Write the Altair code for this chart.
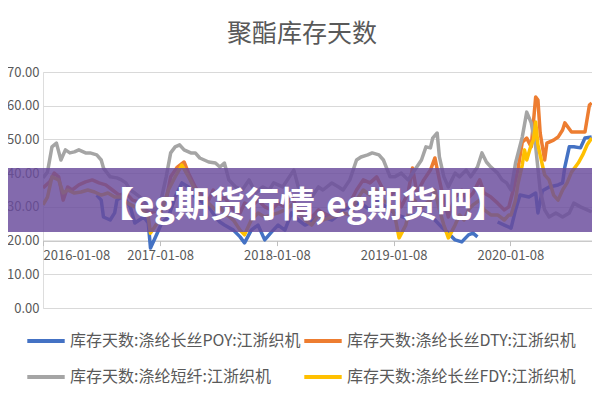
import altair as alt
import pandas as pd

TITLE = "聚酯库存天数"
BANNER = "【eg期货行情,eg期货吧】"
START = pd.Timestamp("2016-01-08")
SERIES = ["库存天数:涤纶长丝POY:江浙织机", "库存天数:涤纶长丝DTY:江浙织机",
          "库存天数:涤纶短纤:江浙织机", "库存天数:涤纶长丝FDY:江浙织机"]
COLORS = ["#4472C4", "#ED7D31", "#A5A5A5", "#FFC000"]
X_TICKS = ["2016-01-08", "2017-01-08", "2018-01-08", "2019-01-08", "2020-01-08"]

# weeks since 2016-01-08 and values (days)
POY_W = [24, 26, 27, 30, 32, 33, 35, 37, 39, 41, 43, 45, 47, 48, 51, 53, 56, 59, 62, 65, 68, 70, 74, 77,
         79, 81, 85, 88, 90, 93, 96, 99, 102, 105, 108, 111, 114, 117, 120, 123, 125, 129, 132, 134, 137,
         140, 143, 146, 149, 152, 155, 158, 162, 166, 170, 175, 178, 181, 184, 187, 190, 192, 194,
         203, 206, 209, 211, 213, 217, 220, 221, 223, 226, 230, 232, 233, 235, 237, 240, 242, 245]
POY_V = [33.5, 32.0, 27.0, 26.1, 28.2, 32.0, 32.9, 32.0, 30.0, 25.2, 26.1, 27.0, 25.2, 17.8, 22.2, 25.2,
         27.0, 32.9, 37.1, 35.9, 32.9, 32.0, 30.0, 27.0, 25.5, 24.6, 23.1, 21.1, 19.3, 23.1, 24.6, 20.2,
         22.5, 24.6, 23.1, 28.2, 26.1, 24.6, 25.5, 27.6, 27.0, 26.1, 27.6, 29.1, 30.0, 31.1, 30.6, 29.1,
         32.0, 30.6, 29.1, 27.6, 26.7, 27.6, 28.2, 26.1, 24.0, 22.2, 20.2, 19.6, 21.7, 22.2, 21.1,
         25.5, 24.6, 23.7, 29.1, 33.5, 32.9, 34.1, 28.2, 34.8, 35.9, 36.5, 37.1, 41.8, 47.8, 47.8, 47.5,
         50.4, 50.7]
POY_SEG = [0] * 63 + [1] * 18

DTY_W = [0, 3, 5, 7, 9, 11, 13, 16, 19, 22, 25, 28, 31, 34, 37, 40, 43, 46, 48, 52, 55, 57, 60, 63, 65,
         68, 70, 74, 76, 79, 81, 85, 88, 90, 93, 96, 99, 102, 105, 108, 111, 114, 117, 120, 123, 125, 129,
         132, 134, 137, 140, 143, 146, 149, 152, 155, 157, 160, 163, 165, 167, 170, 173, 175, 177, 179,
         181, 184, 187, 189, 192, 195, 197, 200, 203, 206, 208, 210, 212, 214, 216, 218, 220, 221, 222,
         224, 225, 228, 230, 232, 233, 236, 238, 240, 242, 244, 245]
DTY_V = [35.6, 37.4, 40.0, 38.9, 32.0, 35.9, 35.0, 36.5, 37.4, 38.0, 37.1, 36.5, 35.0, 33.5, 34.1, 32.0,
         31.4, 29.1, 28.2, 29.1, 32.0, 38.9, 41.8, 43.3, 40.0, 35.9, 34.1, 32.0, 35.0, 32.0, 32.9, 29.1,
         28.2, 31.1, 30.0, 32.0, 30.0, 29.1, 31.1, 30.0, 32.9, 29.1, 28.2, 27.0, 29.1, 28.2, 27.0, 29.1,
         30.0, 31.1, 35.0, 38.0, 37.1, 38.9, 35.0, 32.9, 35.0, 30.0, 34.1, 41.5, 34.1, 38.0, 40.9, 44.5,
         38.0, 32.0, 27.0, 32.9, 35.0, 32.0, 34.1, 38.0, 34.1, 32.9, 31.1, 29.1, 30.0, 35.0, 40.9, 49.2,
         50.4, 47.8, 62.6, 61.7, 51.9, 43.9, 48.9, 49.8, 50.7, 52.8, 54.9, 52.2, 52.2, 52.2, 52.2, 60.2,
         60.8]

PSF_W = [0, 2, 4, 6, 8, 10, 12, 14, 16, 19, 21, 24, 26, 27, 30, 33, 35, 37, 39, 41, 44, 47, 50, 53, 55,
         57, 59, 61, 63, 66, 68, 70, 74, 77, 79, 81, 83, 86, 89, 92, 95, 98, 101, 103, 107, 110, 112, 114,
         117, 120, 123, 125, 129, 132, 134, 137, 140, 142, 145, 147, 150, 152, 155, 157, 160, 163, 166,
         169, 171, 173, 174, 176, 177, 179, 181, 184, 186, 189, 191, 194, 196, 198, 200, 203, 205, 207,
         209, 211, 214, 216, 218, 220, 222, 224, 226, 229, 232, 235, 237, 240, 243, 245]
PSF_V = [38.6, 40.3, 47.8, 48.9, 43.9, 46.9, 46.0, 46.3, 46.9, 46.0, 46.0, 45.4, 43.9, 41.5, 38.9, 38.6,
         38.0, 37.1, 35.0, 34.1, 32.6, 30.0, 29.1, 32.9, 38.9, 46.0, 47.8, 48.4, 46.9, 46.0, 46.0, 44.5,
         43.3, 43.0, 41.8, 43.0, 38.0, 35.9, 35.0, 38.0, 34.1, 35.9, 35.0, 37.1, 35.9, 38.9, 40.9, 35.9,
         35.0, 32.9, 35.9, 35.0, 37.1, 35.9, 35.0, 38.0, 43.9, 44.8, 45.4, 46.0, 45.4, 43.9, 38.9, 38.9,
         40.0, 38.0, 40.9, 43.9, 47.8, 47.5, 50.4, 51.9, 44.8, 38.9, 35.9, 40.0, 38.9, 40.9, 38.9, 41.8,
         46.0, 43.3, 41.8, 40.0, 38.0, 37.1, 35.0, 43.0, 50.7, 58.1, 54.9, 47.8, 35.0, 29.1, 27.0, 28.2,
         27.0, 28.2, 31.1, 30.0, 29.1, 28.5]

FDY_W = [0, 2, 4, 7, 9, 11, 14, 17, 20, 23, 26, 29, 32, 35, 37, 41, 44, 47, 48, 51, 53, 56, 59, 62, 65,
         68, 70, 74, 77, 79, 81, 85, 88, 90, 93, 96, 99, 102, 105, 108, 111, 114, 117, 120, 123, 125, 129,
         132, 134, 137, 140, 143, 146, 149, 152, 155, 157, 159, 162, 164, 166, 168, 170, 173, 175, 177,
         179, 181, 184, 186, 188, 190, 192, 195, 197, 200, 203, 206, 208, 209, 211, 212, 214, 215, 216,
         218, 219, 220, 221, 223, 224, 226, 228, 230, 232, 234, 236, 239, 241, 243, 245]
FDY_V = [30.6, 32.9, 38.9, 38.0, 34.1, 35.0, 34.1, 34.4, 35.0, 34.4, 33.5, 34.1, 32.9, 32.9, 31.4, 30.0,
         29.7, 27.0, 22.2, 25.2, 29.1, 35.0, 38.9, 42.4, 38.9, 35.0, 32.9, 31.1, 29.1, 30.0, 28.2, 26.1,
         23.1, 21.7, 26.1, 28.2, 27.0, 27.6, 28.2, 29.1, 30.6, 28.2, 26.1, 24.6, 27.6, 26.1, 27.0, 27.6,
         28.2, 27.6, 32.0, 35.0, 33.5, 35.0, 32.0, 30.6, 27.6, 20.8, 24.6, 30.6, 32.0, 29.1, 30.6, 32.0,
         35.0, 29.1, 24.6, 20.8, 24.6, 27.6, 26.1, 29.1, 30.6, 32.0, 29.1, 27.6, 27.6, 26.1, 27.6, 27.6,
         32.0, 36.5, 42.4, 46.9, 43.9, 48.4, 49.8, 55.2, 48.4, 42.4, 39.5, 38.0, 33.5, 32.0, 35.0, 37.1,
         40.3, 43.0, 45.4, 48.4, 50.4]

rows = []
for name, ws, vs, segs in [
    (SERIES[0], POY_W, POY_V, POY_SEG),
    (SERIES[1], DTY_W, DTY_V, [0] * len(DTY_W)),
    (SERIES[2], PSF_W, PSF_V, [0] * len(PSF_W)),
    (SERIES[3], FDY_W, FDY_V, [0] * len(FDY_W)),
]:
    for w, v, s in zip(ws, vs, segs):
        rows.append({"date": START + pd.Timedelta(weeks=w), "value": v,
                     "series": name, "seg": f"{name}-{s}"})
df = pd.DataFrame(rows)

END = START + pd.Timedelta(weeks=245.2)
GRAY_TXT = "#595959"
FONT = "Noto Sans CJK SC"

lines = alt.Chart(df).mark_line(strokeWidth=3.5, clip=True, strokeJoin="round").encode(
    x=alt.X("date:T",
            scale=alt.Scale(domain=[alt.DateTime(year=2016, month=1, date=8),
                                    alt.DateTime(year=END.year, month=END.month, date=END.day)]),
            axis=alt.Axis(title=None, values=[alt.DateTime(year=int(t[:4]), month=1, date=8) for t in X_TICKS],
                          format="%Y-%m-%d", offset=-67.4, grid=False, domainColor="#BFBFBF",
                          tickColor="#BFBFBF", tickSize=5, labelColor=GRAY_TXT, labelFontSize=13,
                          labelFont=FONT, labelPadding=4)),
    y=alt.Y("value:Q", scale=alt.Scale(domain=[0, 70], nice=False),
            axis=alt.Axis(title=None, values=list(range(0, 71, 10)), format=".2f", domain=False,
                          ticks=False, gridColor="#D9D9D9", gridWidth=1, labelColor=GRAY_TXT,
                          labelFontSize=13, labelFont=FONT, labelPadding=4)),
    color=alt.Color("series:N", scale=alt.Scale(domain=SERIES, range=COLORS),
                    sort=SERIES,
                    legend=alt.Legend(title=None, orient="none", legendX=-18, legendY=248, columns=2,
                                      direction="horizontal",
                                      symbolType="stroke", symbolStrokeWidth=4, symbolSize=1400,
                                      labelFontSize=16, labelColor=GRAY_TXT, labelFont=FONT,
                                      labelLimit=400, columnPadding=-5, rowPadding=7,
                                      labelOffset=3)),
    detail="seg:N",
    order=alt.Order("date:T"),
)

title_df = pd.DataFrame({"t": [TITLE]})
title = alt.Chart(title_df).mark_text(fontSize=25, color=GRAY_TXT, font=FONT, baseline="middle",
                                      align="center").encode(
    text="t:N", x=alt.value(259), y=alt.value(-38))

banner_rect = alt.Chart(title_df).mark_rect(color="#6a4c9c", opacity=0.83).encode(
    x=alt.value(-35), x2=alt.value(549), y=alt.value(96), y2=alt.value(160))

banner_df = pd.DataFrame({"t": [BANNER]})
banner_text = alt.Chart(banner_df).mark_text(fontSize=35, fontWeight="bold", color="white", font=FONT,
                                             baseline="middle", align="center").encode(
    text="t:N", x=alt.value(260), y=alt.value(134))

chart = alt.layer(lines, title, banner_rect, banner_text).properties(
    width=549, height=236,
    autosize=alt.AutoSizeParams(type="none"),
    padding={"left": 35, "top": 64, "right": 0, "bottom": 90},
).configure_view(stroke=None).configure(background="white")

chart.save("out.html", embed_options={"renderer": "svg", "actions": False})
